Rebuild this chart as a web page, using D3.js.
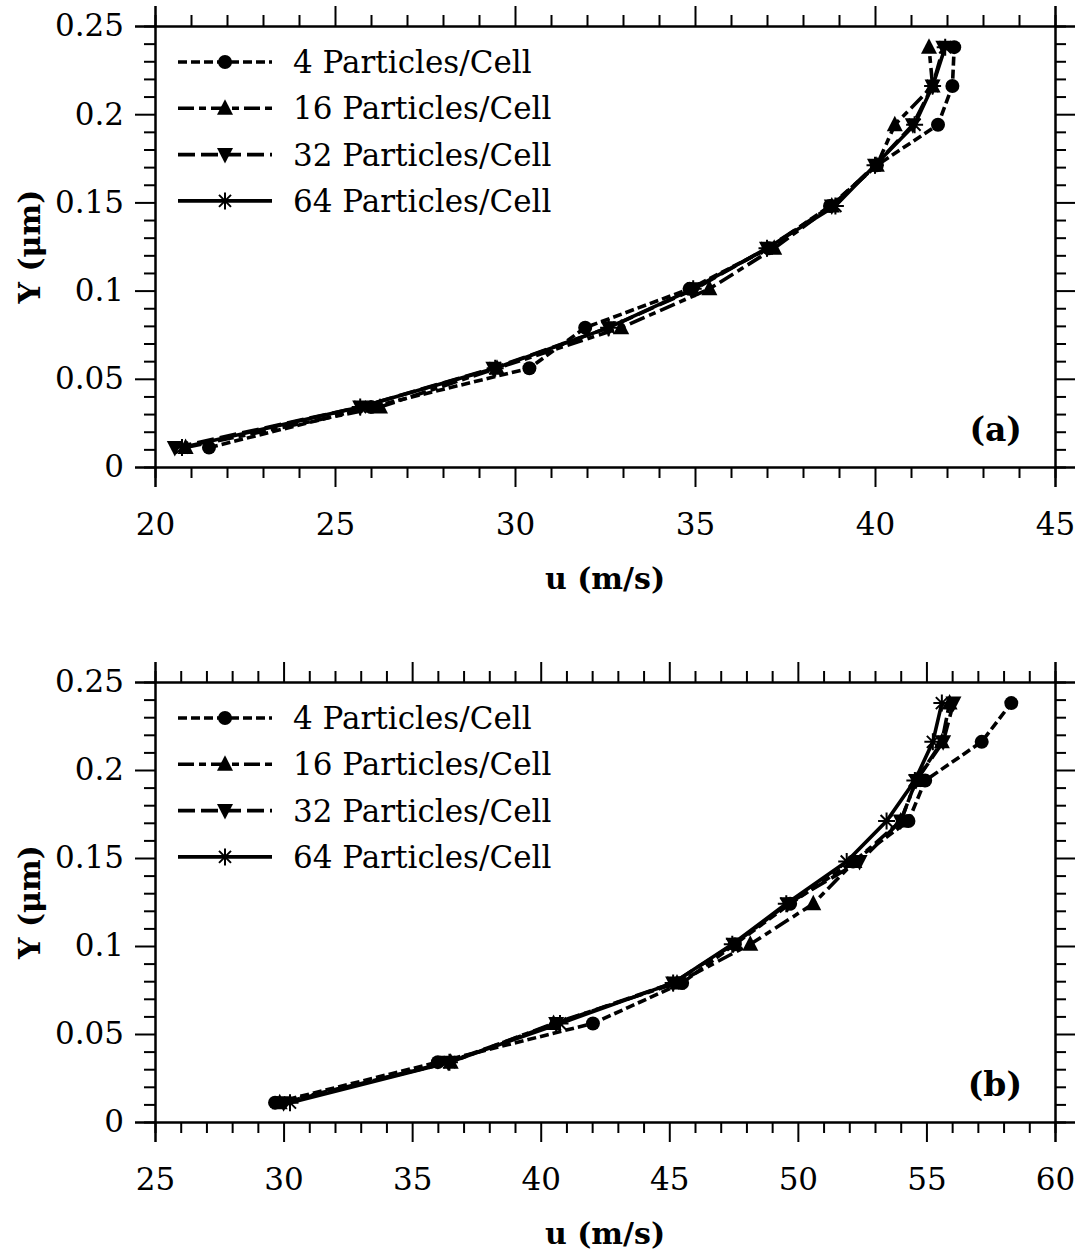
<!DOCTYPE html>
<html>
<head>
<meta charset="utf-8">
<script src="https://cdn.jsdelivr.net/npm/d3@7"></script>
<style>
  body { margin: 0; background: #fff; }
  svg { display: block; }
  text { font-family: "DejaVu Serif", serif; fill: #000; }
</style>
</head>
<body>
<div id="chart"></div>
<script>
// Y positions (micrometres) shared by every series
var yVals = [0.011, 0.034, 0.056, 0.079, 0.101, 0.124, 0.148, 0.171, 0.194, 0.216, 0.238];
var seriesNames = ["4 Particles/Cell", "16 Particles/Cell", "32 Particles/Cell", "64 Particles/Cell"];

// panel (a) velocities
var uA4  = [21.5, 26.0, 30.4, 31.95, 34.85, 37.05, 38.75, 40.05, 41.75, 42.15, 42.2];
var uA16 = [20.85, 26.25, 29.5, 32.95, 35.4, 37.2, 38.8, 40.05, 40.55, 41.6, 41.5];
var uA32 = [20.55, 25.7, 29.4, 32.6, 35.0, 37.0, 38.8, 40.0, 41.05, 41.6, 41.9];
var uA64 = [20.75, 25.7, 29.45, 32.6, 34.95, 37.0, 38.9, 40.0, 41.1, 41.6, 41.95];

// panel (b) velocities
var uB4  = [29.67, 36.0, 42.03, 45.5, 47.55, 49.7, 52.15, 54.3, 54.95, 57.15, 58.3];
var uB16 = [29.85, 36.5, 40.5, 45.3, 48.15, 50.6, 52.2, 54.0, 54.6, 55.6, 55.9];
var uB32 = [30.0, 36.4, 40.6, 45.15, 47.5, 49.6, 52.4, 54.0, 54.6, 55.65, 56.05];
var uB64 = [30.25, 36.45, 40.75, 45.15, 47.45, 49.55, 51.9, 53.45, 54.55, 55.25, 55.6];

// tick labels
var yTicks = [0, 0.05, 0.1, 0.15, 0.2, 0.25];
var yTickLabels = ["0", "0.05", "0.1", "0.15", "0.2", "0.25"];
var uTicksA = [20, 25, 30, 35, 40, 45];
var uTicksB = [25, 30, 35, 40, 45, 50, 55, 60];

var W = 1079, H = 1254;
var svg = d3.select("#chart").append("svg")
    .attr("width", W)
    .attr("height", H);

// line styles and markers for each series
var dashes = ["9,4", "16,5,7,5", "17,6", null];
var markers = ["circle", "up", "down", "star"];

function drawMarker(g, type, x, y) {
    if (type == "circle") {
        g.append("circle").attr("cx", x).attr("cy", y).attr("r", 7).attr("fill", "#000");
    } else if (type == "up") {
        g.append("path")
            .attr("d", "M" + x + "," + (y - 9) + "L" + (x + 8) + "," + (y + 6.5) + "L" + (x - 8) + "," + (y + 6.5) + "Z")
            .attr("fill", "#000");
    } else if (type == "down") {
        g.append("path")
            .attr("d", "M" + x + "," + (y + 9) + "L" + (x + 8) + "," + (y - 6.5) + "L" + (x - 8) + "," + (y - 6.5) + "Z")
            .attr("fill", "#000");
    } else {
        var r = 8.5, d = 6;
        g.append("path")
            .attr("d", "M" + (x - r) + "," + y + "H" + (x + r) +
                "M" + x + "," + (y - r) + "V" + (y + r) +
                "M" + (x - d) + "," + (y - d) + "L" + (x + d) + "," + (y + d) +
                "M" + (x - d) + "," + (y + d) + "L" + (x + d) + "," + (y - d))
            .attr("stroke", "#000")
            .attr("stroke-width", 2)
            .attr("fill", "none");
    }
}

function drawPanel(opt) {
    var x = d3.scaleLinear().domain(opt.uDomain).range([155, 1055]);
    var y = d3.scaleLinear().domain([0, 0.25]).range([opt.bottom, opt.top]);
    var g = svg.append("g");

    var uMinor = d3.range(opt.uDomain[0], opt.uDomain[1] + 1, 1).filter(function (v) { return v % 5 != 0; });
    var yMinor = d3.range(1, 25).filter(function (v) { return v % 5 != 0; }).map(function (v) { return v / 100; });

    // frame axes: major + minor ticks, all pointing out
    function axisPair(maker, scale, majors, minors, transform, labels) {
        var major = maker(scale).tickValues(majors).tickSize(20).tickPadding(11);
        if (labels) major.tickFormat(function (d, i) { return labels[i]; });
        else major.tickFormat("");
        var ga = g.append("g").attr("transform", transform).call(major);
        var gm = g.append("g").attr("transform", transform)
            .call(maker(scale).tickValues(minors).tickSize(11).tickFormat(""));
        [ga, gm].forEach(function (s) {
            s.selectAll("line").attr("stroke-width", 2);
            s.select(".domain").attr("stroke-width", 2);
        });
        ga.selectAll("text").style("font-size", "31px").style("font-family", "DejaVu Serif");
        return ga;
    }

    axisPair(d3.axisLeft, y, yTicks, yMinor, "translate(155,0)", yTickLabels);
    axisPair(d3.axisRight, y, yTicks, yMinor, "translate(1055,0)", null);
    var gb = axisPair(d3.axisBottom, x, opt.uTicks, uMinor, "translate(0," + opt.bottom + ")", opt.uTicks.map(String));
    gb.selectAll("text").attr("y", 46);
    axisPair(d3.axisTop, x, opt.uTicks, uMinor, "translate(0," + opt.top + ")", null);

    // series
    var line = d3.line()
        .x(function (d) { return x(d[0]); })
        .y(function (d) { return y(d[1]); });

    opt.series.forEach(function (vals, k) {
        var pts = vals.map(function (v, i) { return [v, yVals[i]]; });
        g.append("path")
            .attr("d", line(pts))
            .attr("fill", "none")
            .attr("stroke", "#000")
            .attr("stroke-width", 3.6)
            .attr("stroke-dasharray", dashes[k]);
        pts.forEach(function (p) { drawMarker(g, markers[k], x(p[0]), y(p[1])); });
    });

    // legend
    seriesNames.forEach(function (name, k) {
        var ly = opt.top + 36 + k * 46.3;
        g.append("line")
            .attr("x1", 178).attr("x2", 272)
            .attr("y1", ly).attr("y2", ly)
            .attr("stroke", "#000")
            .attr("stroke-width", 3.6)
            .attr("stroke-dasharray", dashes[k]);
        drawMarker(g, markers[k], 225, ly);
        g.append("text")
            .attr("x", 293).attr("y", ly + 11)
            .style("font-size", "31px")
            .text(name);
    });

    // panel tag
    g.append("text")
        .attr("x", 1022).attr("y", opt.bottom - 26)
        .attr("text-anchor", "end")
        .style("font-size", "33px")
        .style("font-weight", "bold")
        .text(opt.tag);

    // axis titles
    g.append("text")
        .attr("x", 605).attr("y", opt.bottom + 122)
        .attr("text-anchor", "middle")
        .style("font-size", "30px")
        .style("font-weight", "bold")
        .text("u (m/s)");
    g.append("text")
        .attr("transform", "translate(40," + ((opt.top + opt.bottom) / 2) + ")rotate(-90)")
        .attr("text-anchor", "middle")
        .style("font-size", "30px")
        .style("font-weight", "bold")
        .text("Y (\u03bcm)");
}

drawPanel({ top: 26, bottom: 467, uDomain: [20, 45], uTicks: uTicksA, series: [uA4, uA16, uA32, uA64], tag: "(a)" });
drawPanel({ top: 682, bottom: 1122, uDomain: [25, 60], uTicks: uTicksB, series: [uB4, uB16, uB32, uB64], tag: "(b)" });
</script>
</body>
</html>
